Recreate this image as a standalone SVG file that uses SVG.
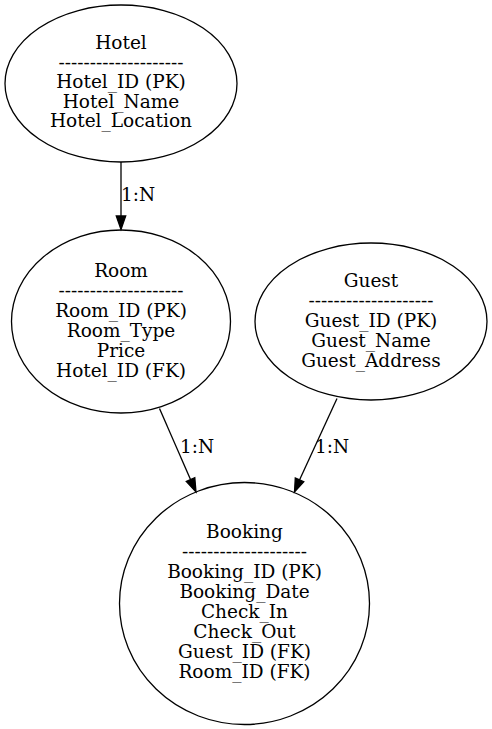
<svg xmlns="http://www.w3.org/2000/svg" width="492" height="729" viewBox="0 0 492 729">
<defs>
<style>
.n ellipse{fill:none;stroke:#000;stroke-width:1.3}
text{font-family:"DejaVu Serif","Liberation Serif",serif;font-size:18.5px;fill:#000;text-anchor:middle}
.e path{fill:none;stroke:#000;stroke-width:1.3}
.e polygon{fill:#000;stroke:#000;stroke-width:1.3}
.lbl{text-anchor:start}
</style>
</defs>
<rect width="492" height="729" fill="#fff"/>
<g id="hotel" class="n">
<ellipse cx="121" cy="83.5" rx="116" ry="78.5"/>
<text x="121" y="49">Hotel</text>
<text x="121" y="68.5">--------------------</text>
<text x="121" y="88">Hotel_ID (PK)</text>
<text x="121" y="107.5">Hotel_Name</text>
<text x="121" y="127">Hotel_Location</text>
</g>
<g id="room" class="n">
<ellipse cx="121" cy="321.5" rx="109.5" ry="91.5"/>
<text x="121" y="277">Room</text>
<text x="121" y="297">--------------------</text>
<text x="121" y="317">Room_ID (PK)</text>
<text x="121" y="337">Room_Type</text>
<text x="121" y="357">Price</text>
<text x="121" y="377">Hotel_ID (FK)</text>
</g>
<g id="guest" class="n">
<ellipse cx="371" cy="321.5" rx="116" ry="78.5"/>
<text x="371" y="287">Guest</text>
<text x="371" y="307">--------------------</text>
<text x="371" y="327">Guest_ID (PK)</text>
<text x="371" y="347">Guest_Name</text>
<text x="371" y="367">Guest_Address</text>
</g>
<g id="booking" class="n">
<ellipse cx="244.5" cy="603.5" rx="125" ry="121"/>
<text x="244.5" y="538">Booking</text>
<text x="244.5" y="558">--------------------</text>
<text x="244.5" y="578">Booking_ID (PK)</text>
<text x="244.5" y="598">Booking_Date</text>
<text x="244.5" y="618">Check_In</text>
<text x="244.5" y="638">Check_Out</text>
<text x="244.5" y="658">Guest_ID (FK)</text>
<text x="244.5" y="678">Room_ID (FK)</text>
</g>
<g id="edges" class="e">
<path d="M121,162 L121,216"/>
<polygon points="116.3,216 121,229.5 125.7,216"/>
<text class="lbl" x="121" y="201">1:N</text>
<path d="M159.5,408.5 L190.5,479.5"/>
<polygon points="186.2,481.4 196,492 194.8,477.6"/>
<text class="lbl" x="180" y="453">1:N</text>
<path d="M337,398.5 L299.5,480"/>
<polygon points="295.3,477.9 294.5,492 303.8,481.7"/>
<text class="lbl" x="315" y="453">1:N</text>
</g>
</svg>
